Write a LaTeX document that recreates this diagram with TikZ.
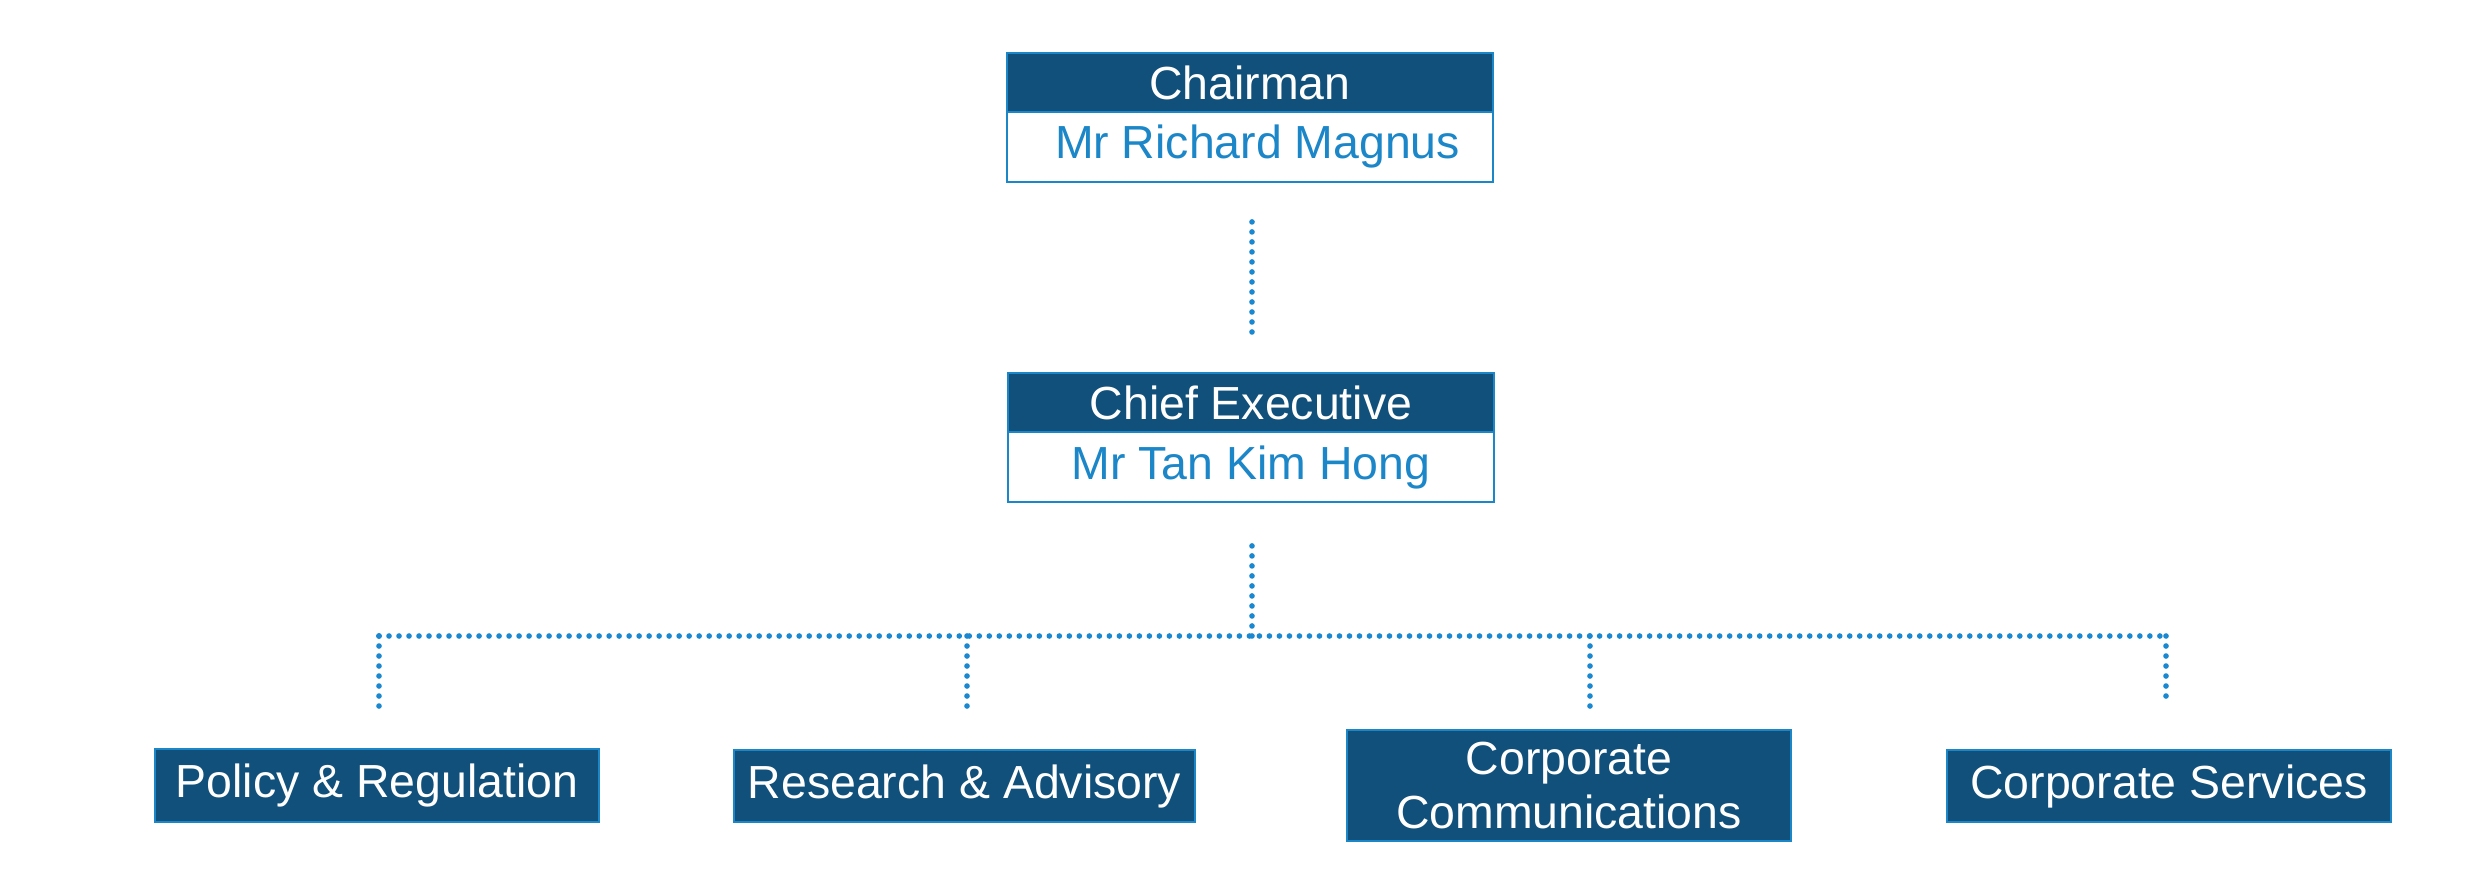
\documentclass[tikz,border=0pt]{standalone}
\usepackage{fontspec}
\setmainfont{Liberation Sans}
\definecolor{navy}{HTML}{10507A}
\definecolor{lblue}{HTML}{1B86C8}
\definecolor{dotblue}{HTML}{1A88D0}
\begin{document}
\begin{tikzpicture}[x=0.01cm,y=-0.01cm,
  txt/.style={font=\fontsize{13.2}{15.6}\selectfont},
  hdr/.style={txt,draw=lblue,line width=0.5pt,fill=navy,text=white,minimum width=4.86cm,minimum height=0.59cm,inner sep=0pt},
  namebox/.style={txt,draw=lblue,line width=0.5pt,fill=white,text=lblue,minimum width=4.86cm,minimum height=0.70cm,inner sep=0pt},
  unit/.style={txt,draw=lblue,line width=0.5pt,fill=navy,text=white,minimum height=0.72cm,inner sep=0pt,align=center},
  conn/.style={draw=dotblue,line width=1.6pt,line cap=round,dash pattern=on 0pt off 2.845pt}
]
\useasboundingbox (0,0) rectangle (2480,885);
% top
\node[hdr] (chairh) at (1250,82.5) {Chairman};
\node[namebox] (chairn) at (1250,147) {\hspace{0.15cm}Mr Richard Magnus};
\node[hdr] (chiefh) at (1251,402.5) {Chief Executive};
\node[namebox] (chiefn) at (1251,467) {Mr Tan Kim Hong};
% units
\node[unit,minimum width=4.44cm,minimum height=0.73cm] (pol) at (377,785.5) {Policy \& Regulation};
\node[unit,minimum width=4.61cm] (res) at (964.5,786) {Research \& Advisory};
\node[unit,minimum width=4.44cm,minimum height=1.11cm] (com) at (1569,785.5) {Corporate\\Communications};
\node[unit,minimum width=4.44cm] (ser) at (2169,786) {Corporate Services};
% connectors
\coordinate (bus) at (1252,636);
\coordinate (b1) at (379,636);
\coordinate (b2) at (967,636);
\coordinate (b3) at (1590,636);
\coordinate (b4) at (2166,636);
\draw[conn] ([xshift=0.02cm,yshift=-0.39cm]chairn.south) -- ([xshift=0.01cm,yshift=0.38cm]chiefh.north);
\draw[conn] ([xshift=0.01cm,yshift=-0.43cm]chiefn.south) -- ([yshift=-0.03cm]bus);
\draw[conn] (b1) -- ([xshift=0.03cm]b4);
\draw[conn] (b1) -- ([yshift=0.42cm]b1 |- pol.north);
\draw[conn] (b2) -- ([yshift=0.34cm]b2 |- res.north);
\draw[conn] (b3) -- ([yshift=0.19cm]b3 |- com.north);
\draw[conn] (b4) -- ([yshift=0.44cm]b4 |- ser.north);
\end{tikzpicture}
\end{document}
